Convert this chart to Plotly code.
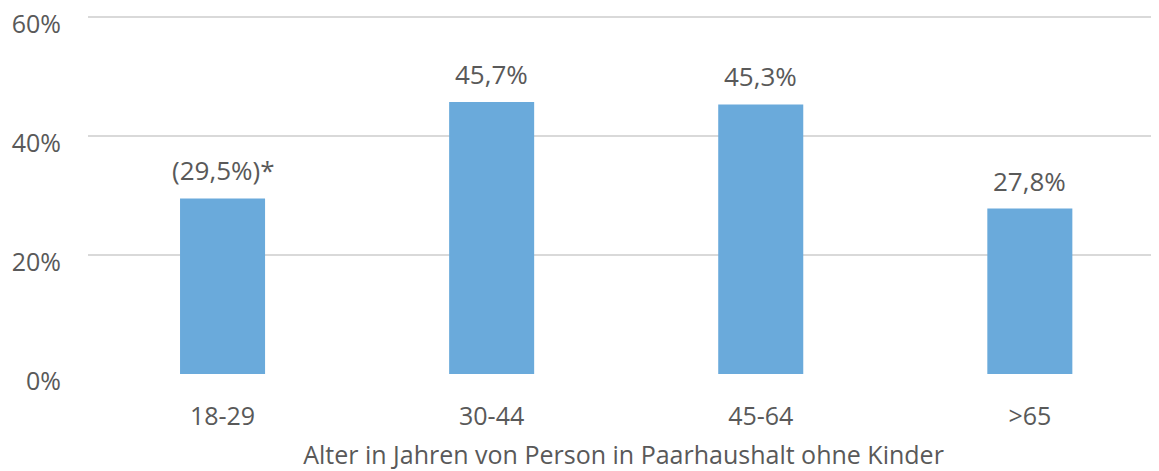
import plotly.graph_objects as go

categories = ["18-29", "30-44", "45-64", ">65"]
values = [29.5, 45.7, 45.3, 27.8]
labels = ["(29,5%)*", "45,7%", "45,3%", "27,8%"]
y_ticks = [0, 20, 40, 60]
y_tick_labels = ["0%", "20%", "40%", "60%"]
x_title = "Alter in Jahren von Person in Paarhaushalt ohne Kinder"

FONT = "Open Sans"
TXT = "#595959"
FS = 25

fig = go.Figure(go.Bar(
    x=categories, y=values,
    marker=dict(color="#6AAADB", line=dict(width=0)),
    hoverinfo="skip",
))

for c, v, t in zip(categories, values, labels):
    fig.add_annotation(x=c, y=v, text=t, showarrow=False, yanchor="middle",
                       yshift=28, font=dict(family=FONT, size=26, color=TXT))

# page body has an 8px default margin; figure sized to fill the remaining window
fig.update_layout(
    width=1151, height=463,
    margin=dict(l=80, r=0, t=4, b=97),
    paper_bgcolor="white", plot_bgcolor="white",
    bargap=0.684, showlegend=False,
    font=dict(family=FONT, size=FS, color=TXT),
)
fig.update_xaxes(
    range=[-0.5, 3.48], showgrid=False, showline=False, ticks="",
    automargin=False, ticklabelstandoff=25,
    tickfont=dict(family=FONT, size=FS, color=TXT),
    title=dict(text=x_title, font=dict(family=FONT, size=FS, color=TXT), standoff=20),
)
fig.update_yaxes(
    range=[0, 60.84], tickvals=y_ticks, ticktext=y_tick_labels,
    showgrid=True, gridcolor="#D9D9D9", gridwidth=1.5, zeroline=False,
    showline=False, ticks="", ticklabelstandoff=26, automargin=False,
    ticklabeloverflow="allow", ticklabelshift=7,
    tickfont=dict(family=FONT, size=FS, color=TXT),
)
fig.write_html("out.html")
